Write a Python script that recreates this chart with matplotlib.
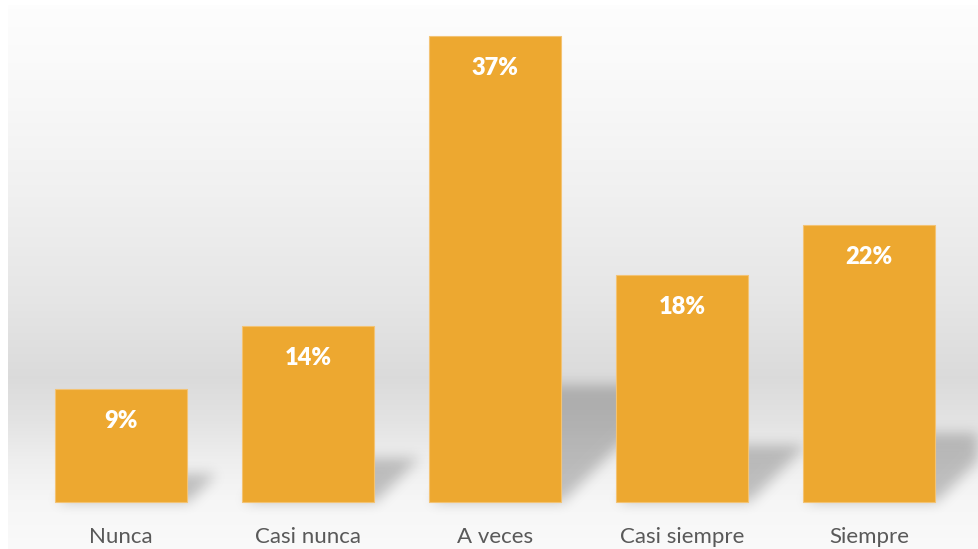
import numpy as np
import matplotlib
matplotlib.use("Agg")
import matplotlib.pyplot as plt
from matplotlib.path import Path

# Survey answers and their share of responses (%)
categories = ["Nunca", "Casi nunca", "A veces", "Casi siempre", "Siempre"]
values = [9, 14, 37, 18, 22]
value_labels = ["9%", "14%", "37%", "18%", "22%"]

BAR_COLOR = "#EDA830"
EDGE_COLOR = "#F3C374"
TEXT_GREY = "#595959"

plt.rcParams["font.family"] = ["Lato", "DejaVu Sans"]

W, H = 979, 549
fig = plt.figure(figsize=(W / 100, H / 100), dpi=100)
fig.patch.set_facecolor("white")

# Plot panel: x 8..978 px, y 5..549 px (from the top)
ax = fig.add_axes([8 / W, 0, 970 / W, 544 / H])
xmin, xmax = -0.604, 4.583
ymin, ymax = -47 / 12.6, 497 / 12.6
ax.set_xlim(xmin, xmax)
ax.set_ylim(ymin, ymax)
ax.axis("off")

# Panel pixel grid
nx, ny = 970, 544

# Vertical grey gradient (grey value by pixel row from the panel top)
stops_y = np.array([0, 95, 195, 295, 372, 415, 455, 495, 544])
stops_v = np.array([0.993, 0.972, 0.940, 0.900, 0.858, 0.890, 0.935, 0.965, 0.980])
rows = np.arange(ny)
grey = np.interp(rows, stops_y, stops_v)
bg = np.repeat(grey[:, None], nx, axis=1)
bg_rgb = np.dstack([bg, bg, bg])
ax.imshow(bg_rgb, extent=(xmin, xmax, ymin, ymax), origin="upper",
          aspect="auto", zorder=0, interpolation="bilinear")

x = np.arange(len(categories))
bar_w = 0.706

# Perspective shadows cast behind each bar (up and to the right)
fig.canvas.draw()
to_px = ax.transData
ax_x0, ax_y0 = ax.transAxes.transform((0, 1))  # top-left of panel in display px
mask = np.zeros((ny, nx))
jj, ii = np.meshgrid(np.arange(nx) + 0.5, np.arange(ny) + 0.5)
pts = np.column_stack([jj.ravel(), ii.ravel()])
for xi, v in zip(x, values):
    (l, b) = to_px.transform((xi - bar_w / 2, 0))
    (r, t) = to_px.transform((xi + bar_w / 2, v))
    xl, xr = l - ax_x0, r - ax_x0
    yb = ax_y0 - b
    h = t - b
    sh = 0.25 * h
    dx = 1.0 * sh
    off = 2
    poly = Path([(xl + off, yb), (xr + off, yb), (xr + off + dx, yb - sh),
                 (xl + off + dx, yb - sh), (xl + off, yb)])
    inside = poly.contains_points(pts).reshape(ny, nx)
    mask = np.maximum(mask, inside.astype(float))

sigma = 6.5
rad = int(3 * sigma)
k = np.exp(-np.arange(-rad, rad + 1) ** 2 / (2 * sigma ** 2))
k /= k.sum()
mask = np.apply_along_axis(lambda m: np.convolve(m, k, mode="same"), 1, mask)
mask = np.apply_along_axis(lambda m: np.convolve(m, k, mode="same"), 0, mask)
shadow = np.zeros((ny, nx, 4))
shadow[..., 3] = 0.22 * mask
ax.imshow(shadow, extent=(xmin, xmax, ymin, ymax), origin="upper",
          aspect="auto", zorder=1, interpolation="bilinear")

bars = ax.bar(x, values, width=bar_w, color=BAR_COLOR, edgecolor=EDGE_COLOR,
              linewidth=0.8, zorder=2)

for xi, v, lab in zip(x, values, value_labels):
    ax.annotate(lab, xy=(xi, v), xytext=(0, -32), textcoords="offset pixels",
                ha="center", va="center", color="white", fontsize=17,
                fontweight="heavy", zorder=3)

label_y = -35 / 12.6
for xi, cat in zip(x, categories):
    ax.text(xi, label_y, cat, ha="center", va="center", color=TEXT_GREY,
            fontsize=16, zorder=3)

fig.savefig("out.png", dpi=100, facecolor="white")
